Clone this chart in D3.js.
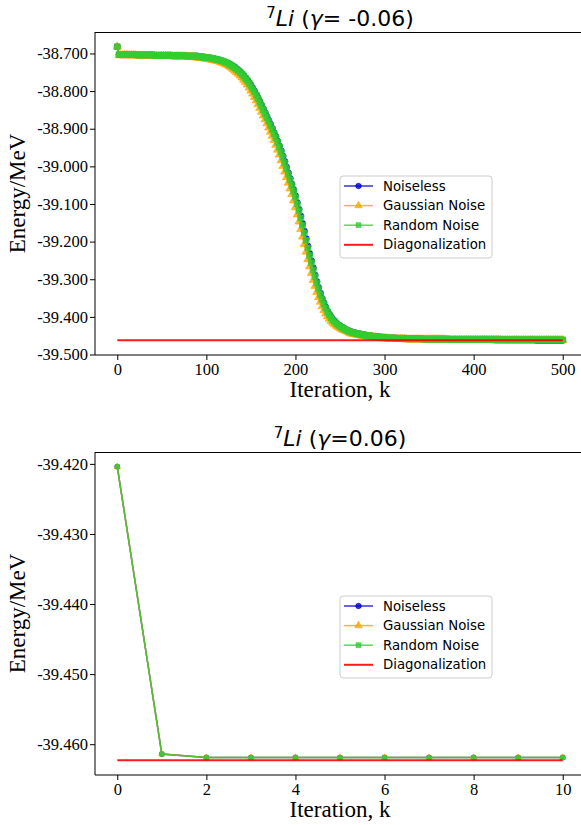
<!DOCTYPE html>
<html>
<head>
<meta charset="utf-8">
<script src="https://cdn.jsdelivr.net/npm/d3@7"></script>
<style>
  body { margin: 0; background: #fff; }
</style>
</head>
<body>
<div id="chart"></div>
<script>
// Top panel (gamma = -0.06): energies every 2 iterations, k = 0..500
const iterTop = d3.range(0, 501, 2);

const noiselessTop = [
  -38.682, -38.703, -38.703, -38.703, -38.703, -38.703, -38.703, -38.703, -38.703, -38.703,
  -38.703, -38.704, -38.704, -38.704, -38.704, -38.704, -38.704, -38.704, -38.704, -38.704,
  -38.704, -38.705, -38.705, -38.705, -38.705, -38.705, -38.705, -38.705, -38.705, -38.705,
  -38.705, -38.706, -38.706, -38.706, -38.706, -38.706, -38.706, -38.706, -38.706, -38.707,
  -38.707, -38.707, -38.707, -38.707, -38.707, -38.707, -38.708, -38.709, -38.709, -38.710,
  -38.711, -38.711, -38.712, -38.713, -38.714, -38.715, -38.716, -38.717, -38.719, -38.720,
  -38.722, -38.724, -38.726, -38.728, -38.731, -38.734, -38.737, -38.741, -38.745, -38.749,
  -38.754, -38.759, -38.765, -38.771, -38.777, -38.784, -38.792, -38.800, -38.809, -38.818,
  -38.828, -38.838, -38.848, -38.858, -38.868, -38.878, -38.888, -38.899, -38.910, -38.921,
  -38.933, -38.946, -38.959, -38.973, -38.987, -39.002, -39.017, -39.032, -39.047, -39.062,
  -39.078, -39.096, -39.114, -39.132, -39.152, -39.172, -39.192, -39.212, -39.232, -39.251,
  -39.270, -39.289, -39.306, -39.322, -39.337, -39.351, -39.363, -39.374, -39.385, -39.393,
  -39.400, -39.407, -39.412, -39.417, -39.421, -39.424, -39.427, -39.430, -39.433, -39.436,
  -39.437, -39.439, -39.441, -39.442, -39.443, -39.444, -39.445, -39.446, -39.447, -39.448,
  -39.449, -39.450, -39.450, -39.451, -39.452, -39.452, -39.453, -39.453, -39.454, -39.454,
  -39.455, -39.455, -39.456, -39.456, -39.456, -39.456, -39.456, -39.457, -39.457, -39.457,
  -39.457, -39.457, -39.457, -39.458, -39.458, -39.458, -39.458, -39.458, -39.458, -39.458,
  -39.458, -39.458, -39.459, -39.459, -39.459, -39.459, -39.459, -39.459, -39.459, -39.459,
  -39.459, -39.459, -39.459, -39.459, -39.459, -39.459, -39.459, -39.460, -39.460, -39.460,
  -39.460, -39.460, -39.460, -39.460, -39.460, -39.460, -39.460, -39.460, -39.460, -39.460,
  -39.460, -39.460, -39.460, -39.460, -39.460, -39.460, -39.460, -39.460, -39.460, -39.460,
  -39.460, -39.460, -39.461, -39.461, -39.461, -39.461, -39.461, -39.461, -39.461, -39.461,
  -39.461, -39.461, -39.461, -39.461, -39.461, -39.461, -39.461, -39.461, -39.461, -39.461,
  -39.461, -39.461, -39.461, -39.461, -39.461, -39.462, -39.462, -39.462, -39.462, -39.462,
  -39.462, -39.462, -39.462, -39.462, -39.462, -39.462, -39.462, -39.462, -39.462, -39.462,
  -39.462
];

const gaussianTop = [
  -38.682, -38.705, -38.705, -38.705, -38.705, -38.705, -38.705, -38.705, -38.705, -38.705,
  -38.705, -38.706, -38.706, -38.706, -38.706, -38.706, -38.706, -38.706, -38.706, -38.706,
  -38.706, -38.707, -38.707, -38.707, -38.707, -38.707, -38.707, -38.707, -38.707, -38.707,
  -38.707, -38.708, -38.708, -38.708, -38.708, -38.708, -38.708, -38.708, -38.708, -38.709,
  -38.709, -38.709, -38.709, -38.710, -38.711, -38.711, -38.712, -38.712, -38.713, -38.713,
  -38.714, -38.715, -38.716, -38.717, -38.718, -38.719, -38.720, -38.721, -38.723, -38.725,
  -38.727, -38.729, -38.732, -38.735, -38.738, -38.742, -38.746, -38.750, -38.754, -38.759,
  -38.764, -38.770, -38.776, -38.783, -38.791, -38.799, -38.807, -38.816, -38.825, -38.835,
  -38.845, -38.855, -38.865, -38.875, -38.886, -38.897, -38.908, -38.919, -38.930, -38.943,
  -38.956, -38.969, -38.984, -38.999, -39.014, -39.029, -39.044, -39.059, -39.074, -39.091,
  -39.109, -39.128, -39.147, -39.167, -39.187, -39.207, -39.227, -39.247, -39.266, -39.284,
  -39.302, -39.318, -39.334, -39.348, -39.360, -39.372, -39.382, -39.391, -39.399, -39.405,
  -39.411, -39.416, -39.420, -39.424, -39.427, -39.430, -39.433, -39.435, -39.437, -39.439,
  -39.442, -39.444, -39.445, -39.446, -39.447, -39.448, -39.449, -39.450, -39.451, -39.451,
  -39.452, -39.453, -39.453, -39.454, -39.454, -39.455, -39.455, -39.456, -39.456, -39.457,
  -39.457, -39.457, -39.458, -39.458, -39.458, -39.458, -39.459, -39.459, -39.459, -39.459,
  -39.459, -39.459, -39.460, -39.460, -39.460, -39.460, -39.460, -39.460, -39.460, -39.460,
  -39.460, -39.460, -39.460, -39.460, -39.460, -39.460, -39.460, -39.460, -39.460, -39.460,
  -39.460, -39.460, -39.460, -39.460, -39.461, -39.461, -39.461, -39.461, -39.461, -39.461,
  -39.461, -39.461, -39.461, -39.461, -39.461, -39.461, -39.461, -39.461, -39.461, -39.461,
  -39.461, -39.461, -39.461, -39.461, -39.461, -39.461, -39.461, -39.461, -39.461, -39.461,
  -39.461, -39.461, -39.461, -39.461, -39.461, -39.462, -39.462, -39.462, -39.462, -39.462,
  -39.462, -39.462, -39.462, -39.462, -39.462, -39.462, -39.462, -39.462, -39.462, -39.462,
  -39.462, -39.462, -39.462, -39.462, -39.462, -39.462, -39.462, -39.462, -39.462, -39.462,
  -39.462, -39.462, -39.462, -39.462, -39.462, -39.462, -39.462, -39.462, -39.462, -39.462,
  -39.462
];

const randomTop = [
  -38.682, -38.703, -38.703, -38.703, -38.703, -38.703, -38.703, -38.703, -38.703, -38.703,
  -38.703, -38.704, -38.704, -38.704, -38.704, -38.704, -38.704, -38.704, -38.704, -38.704,
  -38.704, -38.705, -38.705, -38.705, -38.705, -38.705, -38.705, -38.705, -38.705, -38.705,
  -38.705, -38.706, -38.706, -38.706, -38.706, -38.706, -38.706, -38.706, -38.706, -38.707,
  -38.707, -38.707, -38.707, -38.707, -38.707, -38.708, -38.709, -38.709, -38.710, -38.710,
  -38.711, -38.711, -38.712, -38.713, -38.714, -38.715, -38.716, -38.717, -38.719, -38.720,
  -38.722, -38.724, -38.726, -38.729, -38.732, -38.735, -38.738, -38.742, -38.746, -38.750,
  -38.755, -38.760, -38.766, -38.772, -38.779, -38.786, -38.794, -38.802, -38.811, -38.820,
  -38.830, -38.840, -38.850, -38.860, -38.870, -38.880, -38.891, -38.902, -38.913, -38.924,
  -38.936, -38.949, -38.962, -38.976, -38.991, -39.006, -39.021, -39.036, -39.051, -39.066,
  -39.082, -39.100, -39.118, -39.137, -39.157, -39.177, -39.197, -39.217, -39.237, -39.256,
  -39.275, -39.293, -39.310, -39.326, -39.341, -39.354, -39.366, -39.377, -39.387, -39.395,
  -39.402, -39.408, -39.413, -39.418, -39.422, -39.425, -39.428, -39.431, -39.434, -39.436,
  -39.438, -39.440, -39.442, -39.443, -39.444, -39.445, -39.446, -39.447, -39.448, -39.449,
  -39.450, -39.450, -39.451, -39.452, -39.452, -39.453, -39.453, -39.454, -39.454, -39.455,
  -39.455, -39.456, -39.456, -39.456, -39.456, -39.456, -39.457, -39.457, -39.457, -39.457,
  -39.457, -39.457, -39.458, -39.458, -39.458, -39.458, -39.458, -39.458, -39.458, -39.458,
  -39.458, -39.459, -39.459, -39.459, -39.459, -39.459, -39.459, -39.459, -39.459, -39.459,
  -39.459, -39.459, -39.459, -39.459, -39.459, -39.459, -39.460, -39.460, -39.460, -39.460,
  -39.460, -39.460, -39.460, -39.460, -39.460, -39.460, -39.460, -39.460, -39.460, -39.460,
  -39.460, -39.460, -39.460, -39.460, -39.460, -39.460, -39.460, -39.460, -39.460, -39.460,
  -39.460, -39.461, -39.461, -39.461, -39.461, -39.461, -39.461, -39.461, -39.461, -39.461,
  -39.461, -39.461, -39.461, -39.461, -39.461, -39.461, -39.461, -39.461, -39.461, -39.461,
  -39.461, -39.461, -39.461, -39.461, -39.461, -39.461, -39.461, -39.461, -39.461, -39.461,
  -39.461, -39.461, -39.461, -39.461, -39.461, -39.461, -39.461, -39.461, -39.461, -39.461,
  -39.461
];

const diagTop = -39.4623;

// Bottom panel (gamma = 0.06)
const iterBottom = [0, 1, 2, 3, 4, 5, 6, 7, 8, 9, 10];
const noiselessBottom = [-39.4204, -39.4614, -39.4619, -39.4619, -39.4619, -39.4619, -39.4619, -39.4619, -39.4619, -39.4619, -39.4619];
const gaussianBottom  = [-39.4204, -39.4614, -39.4619, -39.4619, -39.4619, -39.4619, -39.4619, -39.4619, -39.4619, -39.4619, -39.4619];
const randomBottom    = [-39.4204, -39.4614, -39.4619, -39.4619, -39.4619, -39.4619, -39.4619, -39.4619, -39.4619, -39.4619, -39.4619];
const diagBottom = -39.4623;

// Tick values
const xTicksTop = [0, 100, 200, 300, 400, 500];
const yTicksTop = [-38.7, -38.8, -38.9, -39.0, -39.1, -39.2, -39.3, -39.4, -39.5];
const xTicksBottom = [0, 2, 4, 6, 8, 10];
const yTicksBottom = [-39.42, -39.43, -39.44, -39.45, -39.46];

const seriesNames = ['Noiseless', 'Gaussian Noise', 'Random Noise', 'Diagonalization'];
const gammaTop = '= -0.06)';
const gammaBottom = '=0.06)';

const colors = ['mediumblue', 'orange', 'limegreen', 'red'];
const symbols = [d3.symbolCircle, d3.symbolTriangle, d3.symbolSquare];

const svg = d3.select('#chart')
    .append('svg')
    .attr('width', 581)
    .attr('height', 825);

function drawPanel(top, iters, series, diag, xTicks, yTicks, gammaText, markerSizes) {
    const left = 95, right = 585, bottom = top + 323;
    const g = svg.append('g');

    // matplotlib style 5% margins
    const xMin = d3.min(iters), xMax = d3.max(iters);
    const xPad = (xMax - xMin) * 0.05;
    const x = d3.scaleLinear().domain([xMin - xPad, xMax + xPad]).range([left, right]);

    const allValues = series.flat().concat([diag]);
    const yMin = d3.min(allValues), yMax = d3.max(allValues);
    const yPad = (yMax - yMin) * 0.05;
    const y = d3.scaleLinear().domain([yMin - yPad, yMax + yPad]).range([bottom, top]);

    const line = d3.line()
        .x((d, i) => x(iters[i]))
        .y(d => y(d));

    // series: line then markers, in plotting order
    series.forEach((values, s) => {
        const sg = g.append('g');
        sg.append('path')
            .datum(values)
            .attr('d', line)
            .attr('fill', 'none')
            .attr('stroke', colors[s])
            .attr('stroke-width', 1.5)
            .attr('stroke-opacity', 0.8);
        sg.selectAll('path.marker')
            .data(values)
            .enter()
            .append('path')
            .attr('class', 'marker')
            .attr('d', d3.symbol().type(symbols[s]).size(markerSizes[s]))
            .attr('transform', (d, i) => `translate(${x(iters[i])},${y(d)})`)
            .attr('fill', colors[s])
            .attr('fill-opacity', 0.8)
            .attr('stroke', colors[s])
            .attr('stroke-opacity', 0.8)
            .attr('stroke-width', 0.8);
    });

    // diagonalization reference line
    g.append('line')
        .attr('x1', x(xMin)).attr('x2', x(xMax))
        .attr('y1', y(diag)).attr('y2', y(diag))
        .attr('stroke', colors[3])
        .attr('stroke-width', 2)
        .attr('stroke-opacity', 0.9);

    // axes
    const xAxis = d3.axisBottom(x).tickValues(xTicks).tickFormat(d => d)
        .tickSize(5).tickSizeOuter(0).tickPadding(3);
    const yAxis = d3.axisLeft(y).tickValues(yTicks).tickFormat(d => d.toFixed(3))
        .tickSize(5).tickSizeOuter(0).tickPadding(2);

    g.append('g')
        .attr('transform', `translate(0,${bottom})`)
        .call(xAxis)
        .call(a => a.select('.domain').remove())
        .selectAll('text')
        .style('font-family', '"Liberation Serif", "Times New Roman", serif')
        .style('font-size', '16.5px')
        .attr('fill', '#000');

    g.append('g')
        .attr('transform', `translate(${left},0)`)
        .call(yAxis)
        .call(a => a.select('.domain').remove())
        .selectAll('text')
        .style('font-family', '"Liberation Serif", "Times New Roman", serif')
        .style('font-size', '16.5px')
        .attr('fill', '#000');

    // spines
    g.append('line').attr('x1', left).attr('x2', right).attr('y1', top + 0.5).attr('y2', top + 0.5)
        .attr('stroke', '#000').attr('stroke-width', 1);
    g.append('line').attr('x1', left).attr('x2', right).attr('y1', bottom).attr('y2', bottom)
        .attr('stroke', '#000').attr('stroke-width', 1);
    g.append('line').attr('x1', left).attr('x2', left).attr('y1', top).attr('y2', bottom)
        .attr('stroke', '#000').attr('stroke-width', 1);
    g.append('line').attr('x1', right).attr('x2', right).attr('y1', top).attr('y2', bottom)
        .attr('stroke', '#000').attr('stroke-width', 1);

    // title
    const title = g.append('text')
        .attr('x', (left + right) / 2)
        .attr('y', top - 6)
        .attr('text-anchor', 'middle')
        .attr('font-family', 'DejaVu Sans')
        .attr('font-size', 22);
    title.append('tspan').attr('font-size', 15).attr('dy', -8).text('7');
    title.append('tspan').attr('font-style', 'italic').attr('dy', 8).text('Li');
    title.append('tspan').text(' (');
    title.append('tspan').attr('font-style', 'italic').text('γ');
    title.append('tspan').text(gammaText);

    // axis labels
    g.append('text')
        .attr('x', (left + right) / 2)
        .attr('y', bottom + 42)
        .attr('text-anchor', 'middle')
        .attr('font-family', 'Liberation Serif')
        .attr('font-size', 23)
        .text('Iteration, k');

    g.append('text')
        .attr('transform', `translate(25,${(top + bottom) / 2}) rotate(-90)`)
        .attr('text-anchor', 'middle')
        .attr('font-family', 'Liberation Serif')
        .attr('font-size', 23)
        .text('Energy/MeV');

    // legend
    const lg = g.append('g').attr('transform', `translate(${left + 245},${top + 144})`);
    lg.append('rect')
        .attr('width', 152).attr('height', 82)
        .attr('rx', 3)
        .attr('fill', '#fff').attr('fill-opacity', 0.8)
        .attr('stroke', '#cccccc').attr('stroke-width', 1);
    seriesNames.forEach((name, i) => {
        const ry = 10 + i * 19.6;
        lg.append('line')
            .attr('x1', 4).attr('x2', 33).attr('y1', ry).attr('y2', ry)
            .attr('stroke', colors[i])
            .attr('stroke-width', i === 3 ? 2 : 1.5)
            .attr('stroke-opacity', i === 3 ? 0.9 : 0.8);
        if (i < 3) {
            lg.append('path')
                .attr('d', d3.symbol().type(symbols[i]).size(24))
                .attr('transform', `translate(18.5,${ry})`)
                .attr('fill', colors[i]).attr('fill-opacity', 0.8)
                .attr('stroke', colors[i]).attr('stroke-opacity', 0.8).attr('stroke-width', 0.8);
        }
        lg.append('text')
            .attr('x', 43).attr('y', ry)
            .attr('dominant-baseline', 'central')
            .attr('font-family', 'DejaVu Sans')
            .attr('font-size', 13.3)
            .attr('fill', '#000')
            .text(name);
    });
}

drawPanel(32, iterTop, [noiselessTop, gaussianTop, randomTop], diagTop, xTicksTop, yTicksTop, gammaTop, [30, 30, 34]);
drawPanel(452, iterBottom, [noiselessBottom, gaussianBottom, randomBottom], diagBottom, xTicksBottom, yTicksBottom, gammaBottom, [20, 18, 18]);
</script>
</body>
</html>
